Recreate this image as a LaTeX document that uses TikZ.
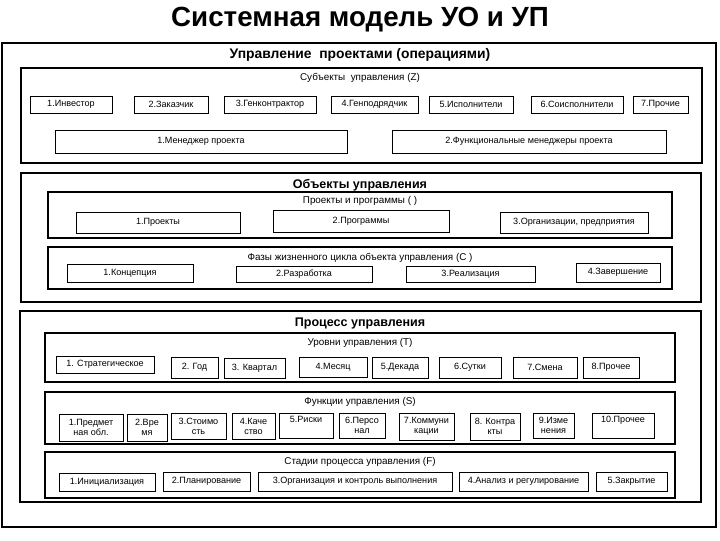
\documentclass[tikz,border=0pt]{standalone}
\usepackage{fontspec}
\setmainfont{Liberation Sans}
\tikzset{
  frame/.style={draw, line width=2.2pt, inner sep=0pt},
  sub/.style={draw, line width=0.8pt, inner sep=0pt},
  box/.style={draw, line width=0.7pt, inner sep=0pt, align=center,
    font=\fontsize{6.8}{7.6}\selectfont},
  hdr/.style={font=\fontsize{7.4}{9}\selectfont},
  bighdr/.style={font=\bfseries\fontsize{9.4}{11}\selectfont},
}
% #1 style, #2 name, #3 x1, #4 y1, #5 x2, #6 y2, #7 text  (pixel coords)
\newcommand\bx[7][box]{%
  \pgfmathsetmacro\bxcx{(#3+#5)/2}%
  \pgfmathsetmacro\bxcy{(#4+#6)/2}%
  \pgfmathsetmacro\bxw{(#5-#3)*0.75}%
  \pgfmathsetmacro\bxh{(#6-#4)*0.75}%
  \node[#1, minimum width=\bxw pt, minimum height=\bxh pt] (#2) at (\bxcx,\bxcy) {#7};}
\begin{document}
\begin{tikzpicture}[x=0.75pt,y=-0.75pt]
\useasboundingbox (0,0) rectangle (720,540);
\node[font=\bfseries\fontsize{20.8}{24}\selectfont] (title) at (360,20) {Системная модель УО и УП};
% outer frame
\bx[frame]{outer}{2}{43}{716}{527}{}
\node[font=\bfseries\fontsize{10.4}{12}\selectfont] (outerhdr) at (360,55) {Управление\ \ проектами (операциями)};
% subjects
\bx[frame]{subj}{21}{68}{702}{163}{}
\node[hdr] (subjhdr) at (360,78) {Субъекты\ \ управления (Z)};
\bx{s1}{30}{96}{112}{113}{1.Инвестор}
\bx{s2}{134}{96}{208}{113}{2.Заказчик}
\bx{s3}{224}{96}{316}{113}{3.Генконтрактор}
\bx{s4}{331}{96}{418}{113}{4.Генподрядчик}
\bx{s5}{429}{96}{513}{113}{5.Исполнители}
\bx{s6}{531}{96}{623}{113}{6.Соисполнители}
\bx{s7}{633}{96}{688}{113}{7.Прочие}
\bx{m1}{55}{130}{347}{153}{1.Менеджер проекта}
\bx{m2}{392}{130}{666}{153}{2.Функциональные менеджеры проекта}
% objects
\bx[frame]{obj}{21}{173}{701}{302}{}
\node[bighdr] (objhdr) at (360,185) {Объекты управления};
\bx[sub]{proj}{48}{192}{672}{238}{}
\node[hdr] (projhdr) at (360,201) {Проекты и программы ( )};
\bx{p1}{76}{212}{240}{233}{1.Проекты}
\bx{p2}{273}{210}{449}{232}{2.Программы}
\bx{p3}{500}{212}{648}{233}{3.Организации, предприятия}
\bx[sub]{phase}{48}{247}{672}{289}{}
\node[hdr] (phasehdr) at (360,258) {Фазы жизненного цикла объекта управления (C )};
\bx{f1}{67}{264}{193}{282}{1.Концепция}
\bx{f2}{236}{266}{372}{282}{2.Разработка}
\bx{f3}{406}{266}{535}{282}{3.Реализация}
\bx{f4}{576}{263}{660}{282}{4.Завершение}
% process
\bx[frame]{proc}{20}{311}{701}{502}{}
\node[bighdr] (prochdr) at (360,323) {Процесс управления};
\bx[sub]{lev}{45}{333}{675}{382}{}
\node[hdr] (levhdr) at (360,343) {Уровни управления (T)};
\bx{l1}{56}{356}{154}{373}{1. Стратегическое}
\bx{l2}{171}{357}{218}{378}{2. Год}
\bx{l3}{224}{358}{285}{378}{3. Квартал}
\bx{l4}{299}{357}{367}{377}{4.Месяц}
\bx{l5}{372}{357}{428}{378}{5.Декада}
\bx{l6}{439}{357}{501}{378}{6.Сутки}
\bx{l7}{513}{357}{577}{378}{7.Смена}
\bx{l8}{583}{357}{639}{378}{8.Прочее}
\bx[sub]{fun}{45}{392}{675}{444}{}
\node[hdr] (funhdr) at (360,402) {Функции управления (S)};
\bx{u1}{59}{414}{123}{441}{1.Предмет\\ная обл.}
\bx{u2}{127}{414}{167}{441}{2.Вре\\мя}
\bx{u3}{171}{413}{226}{439}{3.Стоимо\\сть}
\bx{u4}{232}{413}{275}{439}{4.Каче\\ство}
\bx{u5}{279}{413}{333}{438}{5.Риски\\\strut}
\bx{u6}{339}{413}{385}{438}{6.Персо\\нал}
\bx{u7}{399}{413}{454}{440}{7.Коммуни\\кации}
\bx{u8}{470}{413}{520}{440}{8. Контра\\кты}
\bx{u9}{533}{413}{574}{438}{9.Изме\\нения}
\bx{u10}{592}{413}{654}{438}{10.Прочее\\\strut}
\bx[sub]{stg}{45}{452}{675}{498}{}
\node[hdr] (stghdr) at (360,462) {Стадии процесса управления (F)};
\bx{g1}{59}{473}{155}{491}{1.Инициализация}
\bx{g2}{163}{472}{250}{491}{2.Планирование}
\bx{g3}{258}{472}{452}{491}{3.Организация и контроль выполнения}
\bx{g4}{459}{472}{588}{491}{4.Анализ и регулирование}
\bx{g5}{596}{472}{667}{491}{5.Закрытие}
\end{tikzpicture}
\end{document}
